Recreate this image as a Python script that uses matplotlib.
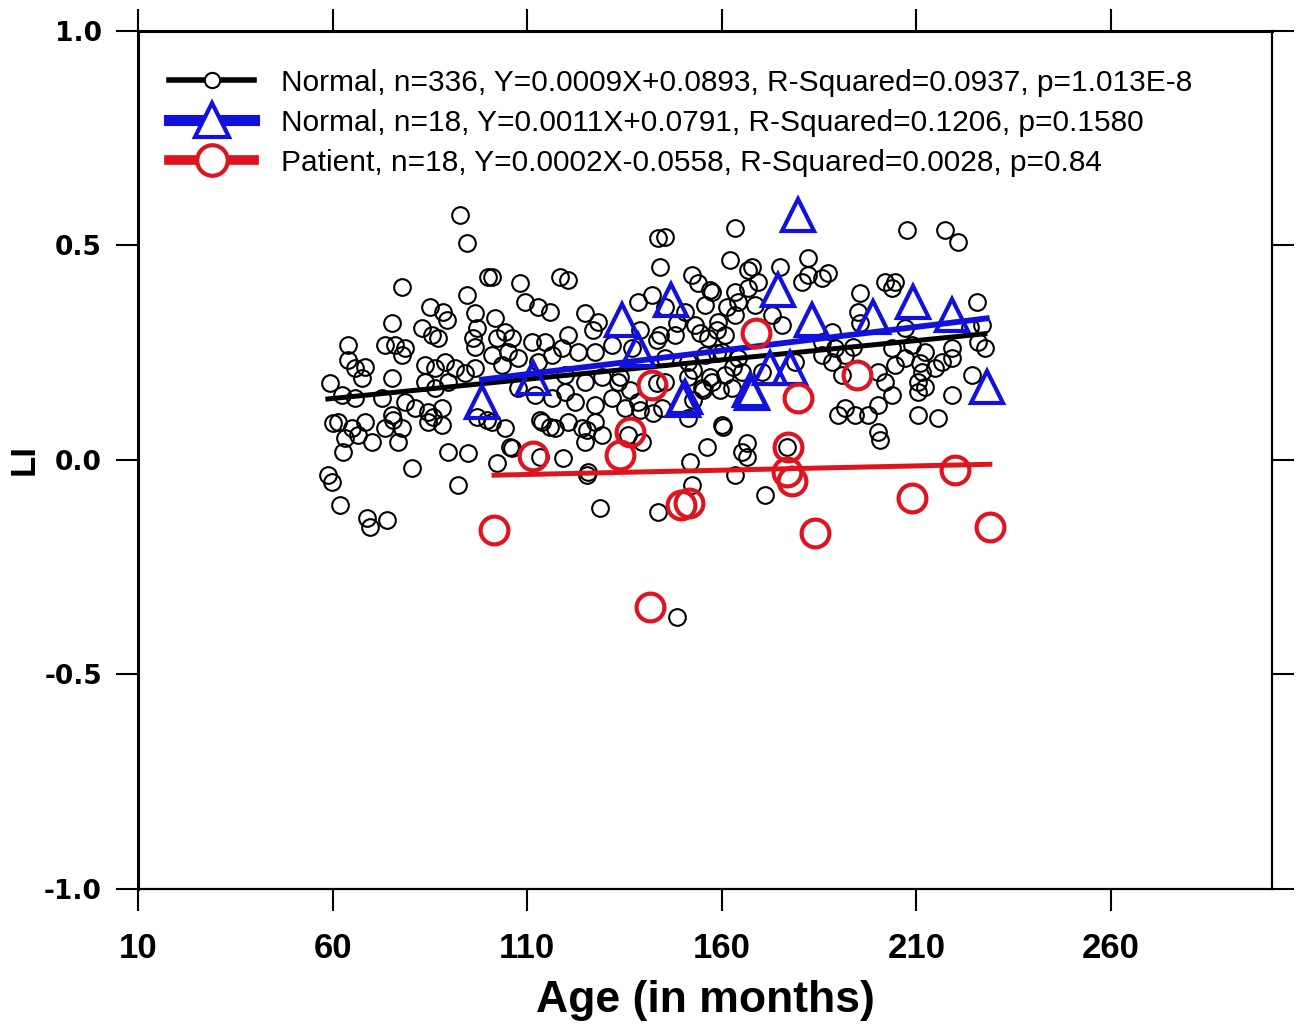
import matplotlib
matplotlib.use("Agg")
import matplotlib.pyplot as plt
from matplotlib.lines import Line2D
import numpy as np

plt.rcParams['font.family'] = ['Liberation Sans', 'DejaVu Sans']

# Normal subjects, n=336 (overlapping points are approximate)
normal_age = [
    92.7, 94.5, 77.8, 94.5, 99.9, 85.0, 88.4, 89.4, 96.6, 97.1, 96.1, 96.6, 75.3, 83.0, 85.5, 87.1,
    63.9, 63.9, 73.5, 76.0, 78.6, 77.8, 68.3, 65.8, 83.7, 86.3, 88.9, 91.4, 94.0, 96.6, 59.3, 67.6,
    75.3, 83.7, 86.3, 89.6, 62.4, 65.8, 72.7, 78.6, 81.2, 84.5, 88.1, 61.4, 65.0, 68.3, 63.2, 66.5,
    70.1, 73.5, 75.3, 77.8, 76.8, 84.5, 88.1, 89.6, 94.7, 62.7, 80.4, 58.8,
    60.0, 59.8, 61.9, 68.8, 69.6, 74.0, 92.2, 102.2, 105.6, 113.3, 119.2, 125.4, 128.7, 143.6,
    148.5, 151.8, 152.3, 156.2, 160.3, 163.4, 166.5, 115.9, 125.4, 113.3, 85.8, 75.5, 97.1, 99.7,
    142.3,
    101.0, 108.1, 118.4, 120.5, 109.4, 112.8, 115.9, 101.7, 104.3, 102.2, 106.1, 111.2, 114.6,
    120.5, 124.9, 128.2, 123.1, 119.0, 138.5, 142.1, 143.6, 101.0, 105.0, 107.6, 103.5, 112.8,
    116.4, 127.4, 131.8, 136.9, 119.7, 124.9, 129.2, 133.3, 107.6, 112.0, 116.4, 119.7, 122.3,
    127.4, 131.8, 135.1, 138.5, 101.0, 104.3, 113.8, 117.1, 120.5, 124.1, 127.4, 129.2, 124.9,
    135.9, 139.5, 106.1, 125.6,
    145.4, 163.4, 152.3, 162.1, 167.8, 175.0, 182.2, 182.2, 180.6, 185.7, 144.1, 153.9, 157.5,
    163.4, 166.7, 169.3, 155.7, 161.3, 164.2, 168.5, 145.4, 150.5, 153.1, 159.0, 163.4, 172.9,
    175.5, 148.0, 156.5, 160.8, 144.1, 145.4, 151.3, 155.7, 160.0, 164.2, 151.3, 154.9, 157.5,
    160.8, 162.6, 165.2, 170.3, 145.4, 144.6, 151.3, 160.0, 165.2, 185.7, 185.7, 178.8,
    207.6, 217.3, 220.7, 187.3, 201.9, 204.5, 203.7, 195.5, 225.6, 195.0, 195.5, 226.9, 207.1,
    188.3, 225.8, 227.6, 189.1, 191.7, 203.7, 208.9, 207.1, 212.2, 219.2, 216.6, 204.5, 200.1,
    211.4, 214.8, 219.2, 190.9, 201.9, 210.4, 212.2, 224.3, 203.7, 210.4, 219.2, 191.7, 189.9,
    194.2, 197.6, 200.1, 210.4, 215.5, 200.1, 188.3,
    166.7, 223.8, 193.7, 210.9, 139.0, 166.5, 171.1, 176.8, 200.6,
    148.5, 156.9, 139.0, 143.3, 154.4, 158.8, 158.8, 162.9, 152.6, 157.0, 159.5, 152.6, 155.2,
    143.3, 136.4, 133.8, 127.0,
]
normal_li = [
    0.571, 0.506, 0.403, 0.385, 0.427, 0.357, 0.345, 0.326, 0.343, 0.308, 0.284, 0.263, 0.319, 0.308, 0.291, 0.284,
    0.268, 0.233, 0.268, 0.268, 0.261, 0.245, 0.217, 0.214, 0.221, 0.214, 0.228, 0.214, 0.203, 0.214, 0.179, 0.191,
    0.191, 0.182, 0.168, 0.182, 0.152, 0.145, 0.145, 0.135, 0.121, 0.112, 0.121, 0.089, 0.075, 0.089, 0.051, 0.058,
    0.042, 0.075, 0.105, 0.075, 0.042, 0.089, 0.082, 0.019, 0.016, 0.019, -0.019, -0.035,
    0.086, -0.051, -0.105, -0.135, -0.156, -0.140, -0.058, -0.007, 0.030, 0.007, 0.005, -0.035, -0.112, -0.121,
    -0.366, -0.005, -0.058, 0.030, 0.077, -0.035, 0.040, 0.077, 0.070, 0.093, 0.100, 0.093, 0.100, 0.093,
    0.109,
    0.427, 0.413, 0.427, 0.420, 0.368, 0.357, 0.345, 0.331, 0.298, 0.284, 0.284, 0.275, 0.275,
    0.291, 0.343, 0.322, 0.252, 0.261, 0.368, 0.385, 0.517, 0.245, 0.252, 0.238, 0.221, 0.228,
    0.245, 0.252, 0.268, 0.261, 0.198, 0.182, 0.193, 0.182, 0.168, 0.152, 0.145, 0.159, 0.135,
    0.128, 0.145, 0.121, 0.135, 0.089, 0.075, 0.089, 0.075, 0.089, 0.075, 0.089, 0.058, 0.042,
    0.058, 0.042, 0.028, -0.028,
    0.520, 0.541, 0.431, 0.466, 0.450, 0.450, 0.471, 0.431, 0.415, 0.424, 0.450, 0.413, 0.392,
    0.392, 0.401, 0.415, 0.361, 0.357, 0.368, 0.361, 0.357, 0.345, 0.315, 0.322, 0.338, 0.338,
    0.315, 0.291, 0.284, 0.291, 0.291, 0.238, 0.228, 0.245, 0.252, 0.238, 0.193, 0.168, 0.182,
    0.198, 0.168, 0.205, 0.205, 0.182, 0.121, 0.098, 0.082, 0.019, 0.245, 0.275, 0.228,
    0.536, 0.536, 0.508, 0.436, 0.415, 0.415, 0.401, 0.389, 0.368, 0.345, 0.319, 0.315, 0.308,
    0.298, 0.275, 0.261, 0.261, 0.245, 0.261, 0.268, 0.238, 0.252, 0.261, 0.228, 0.221, 0.205,
    0.205, 0.214, 0.238, 0.198, 0.182, 0.182, 0.170, 0.198, 0.152, 0.159, 0.152, 0.121, 0.105,
    0.105, 0.105, 0.128, 0.105, 0.098, 0.065, 0.228,
    0.443, 0.310, 0.263, 0.226, 0.117, 0.007, -0.082, 0.030, 0.047,
    0.319, 0.396, 0.303, 0.280, 0.296, 0.303, 0.249, 0.217, 0.210, 0.193, 0.163, 0.140, 0.163,
    0.179, 0.163, 0.193, 0.303,
]

# Normal subgroup, n=18 (triangles)
normal18_age = [98.4, 111.5, 134.4, 138.5, 147.0, 150.5, 167.8, 172.4, 177.5, 174.4, 179.6,
                183.2, 198.8, 209.1, 219.1, 228.1, 150.0, 167.2]
normal18_li = [0.135, 0.191, 0.326, 0.256, 0.373, 0.147, 0.156, 0.214, 0.214, 0.396, 0.571,
               0.326, 0.333, 0.368, 0.338, 0.170, 0.140, 0.163]

# Patients, n=18
patient_age = [101.5, 111.5, 133.8, 136.4, 142.0, 141.5, 149.5, 151.5, 168.8, 179.6, 177.0,
               176.7, 178.0, 184.0, 194.7, 208.9, 219.9, 228.9]
patient_li = [-0.163, 0.010, 0.012, 0.065, 0.175, -0.343, -0.105, -0.100, 0.296, 0.145, 0.030,
              -0.028, -0.050, -0.170, 0.198, -0.089, -0.023, -0.156]

# regression fits from the legend: (slope, intercept)
fit_normal = (0.0009, 0.0893)
fit_normal18 = (0.0011, 0.0791)
fit_patient = (0.0002, -0.0558)

labels = [
    "Normal, n=336, Y=0.0009X+0.0893, R-Squared=0.0937, p=1.013E-8",
    "Normal, n=18, Y=0.0011X+0.0791, R-Squared=0.1206, p=0.1580",
    "Patient, n=18, Y=0.0002X-0.0558, R-Squared=0.0028, p=0.84",
]

BLUE = '#1212dc'
RED = '#e0141e'

fig = plt.figure(figsize=(13.03, 10.25), dpi=100)
ax = fig.add_axes([0.1059, 0.1327, 0.8703, 0.8371])


def fit_line(xs, fit):
    x = np.array([min(xs), max(xs)])
    return x, fit[0] * x + fit[1]


ax.plot(normal_age, normal_li, 'o', ms=12, mfc='none', mec='black', mew=1.5, zorder=2)
x, y = fit_line(normal_age, fit_normal)
ax.plot(x, y, color='black', lw=3.6, zorder=3)

ax.plot(normal18_age, normal18_li, '^', ms=23, mfc='none', mec=BLUE, mew=3, zorder=4)
x, y = fit_line(normal18_age, fit_normal18)
ax.plot(x, y, color=BLUE, lw=4.2, zorder=5)

ax.plot(patient_age, patient_li, 'o', ms=20, mfc='none', mec=RED, mew=3, zorder=6)
x, y = fit_line(patient_age, fit_patient)
ax.plot(x, y, color=RED, lw=3.6, zorder=7)

ax.set_xlim(10, 301.4)
ax.set_ylim(-1, 1)
ax.set_xticks([10, 60, 110, 160, 210, 260])
ax.set_yticks([-1, -0.5, 0, 0.5, 1])
ax.set_yticklabels(['-1.0', '-0.5', '0.0', '0.5', '1.0'])

ax.tick_params(direction='out', length=16, width=1.5, top=True, right=True,
               labeltop=False, labelright=False)
ax.tick_params(axis='x', pad=15, labelsize=25)
ax.tick_params(axis='y', pad=10, labelsize=19)
for lab in ax.get_xticklabels():
    lab.set_fontweight('bold')
for lab in ax.get_yticklabels():
    lab.set_fontweight('bold')
    lab.set_family(['DejaVu Sans'])

for side in ['left', 'top']:
    ax.spines[side].set_linewidth(2.2)
for side in ['right', 'bottom']:
    ax.spines[side].set_linewidth(1.6)

ax.set_xlabel('Age (in months)', fontsize=32, fontweight='bold')
ax.xaxis.set_label_coords(0.5, -0.106)
ax.set_ylabel('LI', fontsize=25, fontweight='bold')
ax.yaxis.set_label_coords(-0.086, 0.5)

handles = [
    Line2D([], [], color='black', lw=4, marker='o', ms=11, mfc='white', mec='black', mew=1.5),
    Line2D([], [], color=BLUE, lw=8, marker='^', ms=24, mfc='white', mec=BLUE, mew=3),
    Line2D([], [], color=RED, lw=7, marker='o', ms=22, mfc='white', mec=RED, mew=3),
]
ax.legend(handles, labels, loc='upper left', bbox_to_anchor=(0.017, 0.97), frameon=False,
          fontsize=21.5, handlelength=2.85, handletextpad=0.9, labelspacing=0.4,
          borderaxespad=0)

fig.savefig('out.png', dpi=100)
